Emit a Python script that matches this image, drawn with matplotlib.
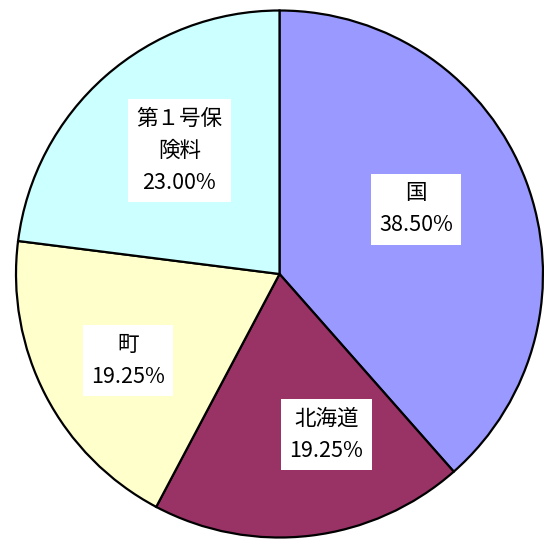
import numpy as np
import matplotlib
matplotlib.use("Agg")
import matplotlib.pyplot as plt

plt.rcParams['font.family'] = ['Noto Sans CJK JP', 'DejaVu Sans']

names = ["国", "北海道", "町", "第１号保\n険料"]
shares = [38.50, 19.25, 19.25, 23.00]
colors = ["#9999FF", "#993366", "#FFFFCC", "#CCFFFF"]
# label placement: distance from centre (fraction of radius) and angle nudge (deg)
label_dist = [0.574, 0.635, 0.663, 0.603]
label_nudge = [4.7, 9.5, 2.4, -2.3]

fig = plt.figure(figsize=(5.44, 5.42), dpi=100)
ax = fig.add_axes([16 / 544, 2 / 542, 527 / 544, 532 / 542])

wedges, _ = ax.pie(shares, colors=colors, startangle=90, counterclock=False,
                   wedgeprops=dict(edgecolor="black", linewidth=1.6))

for w, name, val, d, nd in zip(wedges, names, shares, label_dist, label_nudge):
    mid = np.deg2rad((w.theta1 + w.theta2) / 2 + nd)
    ax.text(d * np.cos(mid), d * np.sin(mid), f"{name}\n{val:.2f}%",
            ha="center", va="center", fontsize=15.5, linespacing=1.6,
            bbox=dict(facecolor="white", edgecolor="none", pad=6))

ax.set_xlim(-1.0, 1.0)
ax.set_ylim(-1.0, 1.0)
ax.set_aspect("equal")
ax.axis("off")

fig.savefig("out.png", dpi=100)
